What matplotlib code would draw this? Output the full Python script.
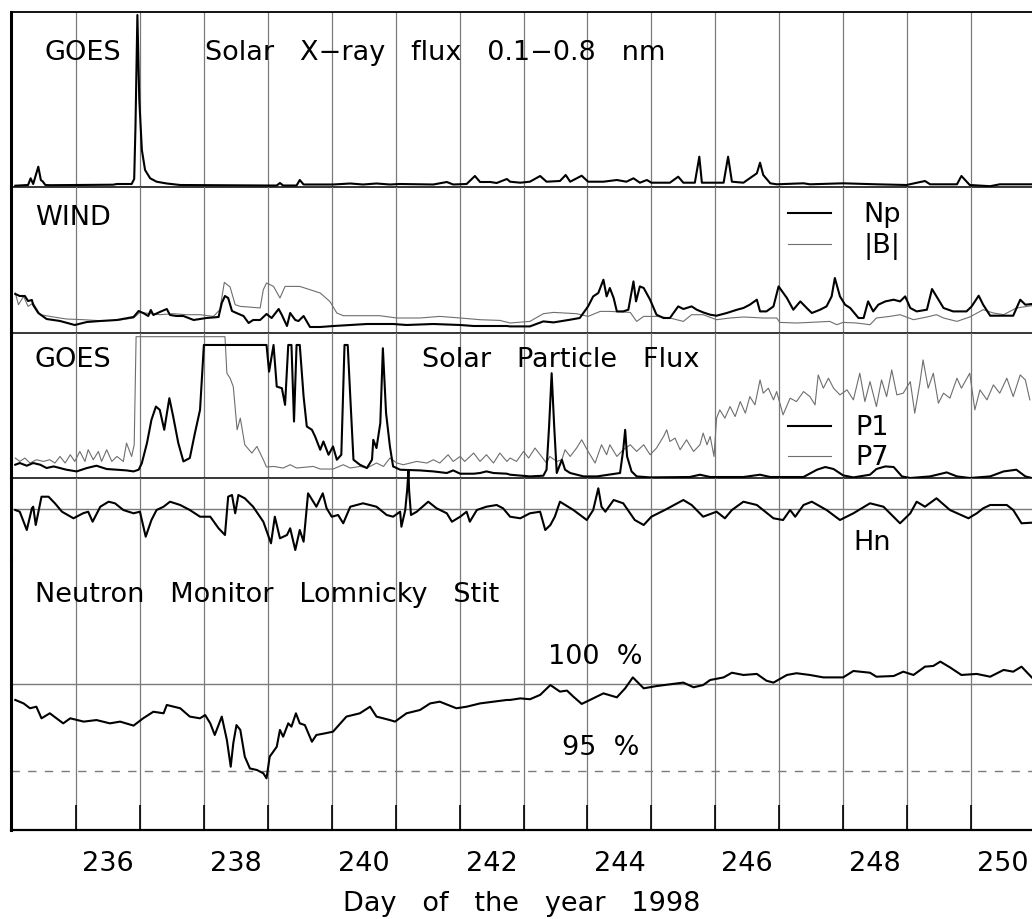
import numpy as np
import matplotlib.pyplot as plt
from matplotlib.lines import Line2D

plt.rcParams['font.family'] = ['DejaVu Sans']

W, H = 1032, 919
FS = 19.5

# ---- GOES solar X-ray flux 0.1-0.8 nm (relative units) ----
xray_day = [234.55, 234.75, 234.79, 234.83, 234.91, 234.95, 234.98, 235.02, 235.09, 236.08,
            236.14, 236.37, 236.41, 236.43, 236.46, 236.49, 236.53, 236.58, 236.66, 236.76,
            236.92, 237.13, 238.48, 238.64, 238.69, 238.74, 238.95, 239.00, 239.06, 239.52,
            239.79, 239.99, 240.20, 240.41, 240.57, 241.09, 241.30, 241.40, 241.61, 241.74,
            241.82, 241.98, 242.08, 242.24,
            242.29, 242.45, 242.60, 242.76, 242.86, 243.07, 243.16, 243.23, 243.41, 243.51,
            243.75, 243.96, 244.11, 244.22, 244.32, 244.43, 244.50, 244.79, 244.92, 245.00,
            245.18, 245.25, 245.29, 245.63, 245.70, 245.76, 245.94, 246.15, 246.20, 246.25,
            246.36, 246.46, 246.88, 246.98, 247.50, 248.02, 248.49, 248.78, 248.86, 249.28,
            249.35, 249.48, 249.80, 249.95, 250.45]
xray_flux = [1.3, 2.0, 8.7, 3.0, 20.3, 7.0, 5.5, 2.0, 1.8, 2.3,
             3.0, 3.0, 8.0, 60.0, 172.0, 87.0, 37.0, 17.0, 8.7, 5.3,
             3.5, 2.0, 1.5, 1.5, 4.0, 1.5, 1.5, 7.0, 2.5, 2.5,
             3.5, 2.5, 3.5, 2.5, 3.0, 2.5, 5.0, 2.5, 3.0, 11.0,
             5.0, 5.0, 4.0, 8.0,
             5.3, 4.3, 5.3, 11.0, 5.3, 6.0, 12.0, 5.3, 11.3, 5.3,
             5.3, 7.0, 5.3, 8.7, 4.3, 7.0, 4.3, 4.3, 10.3, 4.3,
             4.3, 30.3, 4.3, 4.3, 30.3, 5.3, 4.3, 13.7, 24.3, 12.0,
             3.7, 2.7, 3.7, 2.7, 3.7, 2.7, 2.0, 6.0, 2.7, 2.7,
             11.0, 2.0, 0.8, 2.7, 2.7]

# ---- WIND proton density Np and |B| (relative units) ----
np_day = [234.55, 234.62, 234.70, 234.75, 234.81, 234.83, 234.91, 235.04, 235.25, 235.48,
          235.67, 235.88, 236.14, 236.40, 236.48, 236.55, 236.63, 236.67, 236.71, 236.81,
          236.92, 236.97, 237.07, 237.18, 237.34, 237.54, 237.73, 237.78, 237.83, 237.88,
          237.94, 238.01, 238.12, 238.20, 238.27, 238.38, 238.48, 238.56, 238.67, 238.72,
          238.80, 238.85, 238.93, 238.98, 239.06, 239.16, 239.32, 239.53, 239.79, 240.05,
          240.46, 240.67, 241.09, 241.51, 241.72, 242.03, 242.24,
          242.29, 242.60, 242.81, 242.97, 243.23, 243.38, 243.51, 243.59, 243.67, 243.75,
          243.80, 243.85, 243.91, 243.96, 244.06, 244.14, 244.22, 244.26, 244.32, 244.38,
          244.48, 244.58, 244.69, 244.79, 244.92, 245.00, 245.13, 245.21, 245.31, 245.42,
          245.52, 245.68, 245.84, 245.94, 246.04, 246.15, 246.20, 246.30, 246.41, 246.49,
          246.62, 246.72, 246.83, 246.93, 247.01, 247.14, 247.24, 247.32, 247.37, 247.45,
          247.53, 247.61, 247.74, 247.82, 247.89, 247.97, 248.05, 248.16, 248.29, 248.39,
          248.47, 248.55, 248.65, 248.81, 248.89, 248.96, 249.07, 249.22, 249.43, 249.51,
          249.62, 249.69, 249.80, 249.90, 250.16, 250.27, 250.35, 250.45]
np_val = [39, 37, 37, 32, 33, 28, 20, 14, 12, 8,
          11, 12, 13, 16, 22, 20, 17, 23, 18, 21,
          24, 18, 17, 17, 13, 15, 16, 30, 37, 35,
          22, 20, 17, 10, 13, 13, 19, 15, 24, 18,
          7, 20, 13, 12, 17, 6, 6, 7, 8, 9,
          9, 8, 9, 8, 7, 7, 7,
          6.6, 6.6, 11.6, 10.6, 13.3, 15, 26.6, 36.6, 40, 53.3,
          36.6, 45, 35, 21.6, 21.6, 23.3, 51.6, 31.6, 46.6, 45,
          33.3, 18.3, 15, 15, 26.6, 24, 26.6, 23.3, 20.6, 18.3,
          17.3, 20, 23.3, 25, 28.3, 33.3, 21.6, 21.6, 26.6, 46.6,
          35, 23.3, 31.6, 25, 20, 23.3, 26.6, 36.6, 55, 36.6,
          28.3, 25, 15, 15, 31.6, 21.6, 28.3, 31.6, 33.3, 31.6,
          36.6, 25, 21.6, 23.3, 44, 36.6, 25, 21.6, 21.6, 26.6,
          37.3, 28.3, 17.3, 17.3, 17.3, 33.3, 28.3, 29]

b_day = [234.55, 234.60, 234.68, 234.75, 234.83, 234.94, 235.15, 235.35, 235.62, 235.88,
         236.14, 236.40, 236.50, 236.81, 237.02, 237.23, 237.44, 237.65, 237.75, 237.82,
         237.91, 237.99, 238.07, 238.20, 238.38, 238.43, 238.48, 238.59, 238.69, 238.77,
         239.00, 239.16, 239.32, 239.47, 239.58, 239.68, 239.94, 240.25, 240.52, 240.88,
         241.19, 241.51, 241.82, 242.13,
         242.29, 242.60, 242.81, 242.97, 243.33, 243.51, 243.70, 243.85, 244.17, 244.27,
         244.38, 244.58, 244.79, 245.00, 245.13, 245.31, 245.52, 245.73, 245.94, 246.25,
         246.46, 246.51, 246.77, 246.98, 247.29, 247.40, 247.50, 247.71, 247.92, 248.02,
         248.23, 248.39, 248.60, 248.81, 248.96, 249.07, 249.28, 249.48, 249.69, 249.85,
         250.01, 250.21, 250.45]
b_val = [40, 28.3, 36.6, 26.6, 30, 18.3, 16, 14, 13.3, 12.3,
         12.6, 15, 20.6, 18.3, 19.3, 18.3, 18.3, 16.6, 23.3, 50.6,
         46, 28.3, 26.6, 26, 25, 43.3, 50, 46.6, 35, 46.6,
         46.6, 43.3, 40, 31.6, 20, 17.3, 17.3, 17.3, 15, 15,
         16.6, 15, 13.3, 12.6,
         10, 11.6, 19.3, 20.6, 19.3, 16.6, 21.6, 21.6, 20.6, 11.6,
         16.6, 16.6, 15, 11.6, 18.3, 18.3, 13.3, 15, 16, 15,
         15, 10.6, 10, 10.6, 11.6, 8.3, 10.6, 10, 8.3, 15,
         16.6, 18.3, 13.3, 16, 18.3, 15, 11.6, 16, 23.3, 20,
         18.3, 25, 27.3]

# ---- GOES solar particle flux P1 and P7 (relative units) ----
p1_day = [234.55, 234.62, 234.73, 234.83, 234.94, 235.04, 235.15, 235.35, 235.51, 235.67,
          235.82, 235.98, 236.14, 236.29, 236.40, 236.48, 236.53, 236.61, 236.68, 236.75,
          236.81, 236.88, 236.96, 237.02, 237.10, 237.18, 237.28, 237.36, 237.44, 237.50,
          238.48, 238.52, 238.59, 238.64, 238.72, 238.77, 238.82, 238.87, 238.91, 238.95,
          239.00, 239.06, 239.11, 239.19, 239.24, 239.32, 239.37, 239.45, 239.52, 239.58,
          239.65, 239.70, 239.75, 239.79, 239.84, 239.94, 240.05, 240.13, 240.15, 240.20,
          240.26, 240.30, 240.35, 240.41, 240.46, 240.57, 240.88, 241.09, 241.30, 241.40,
          241.51, 241.72, 241.82, 241.92, 242.03, 242.24,
          242.29, 242.60, 242.81, 242.86, 242.90, 242.94, 242.98, 243.02, 243.10, 243.15,
          243.23, 243.44, 243.65, 244.01, 244.06, 244.09, 244.12, 244.19, 244.27, 244.48,
          245.10, 245.26, 245.42, 245.94, 246.20, 246.36, 246.88, 247.09, 247.22, 247.35,
          247.50, 247.66, 247.92, 248.02, 248.16, 248.29, 248.42, 248.55, 248.86, 249.12,
          249.28, 249.48, 249.80, 250.01, 250.21, 250.35, 250.45]
p1_val = [13.3, 15, 12.3, 15, 13.3, 10, 11.6, 8.3, 6.6, 10,
          12.3, 9, 8.3, 7.6, 6.6, 8.3, 15, 35, 58.3, 71.6,
          68.3, 48.3, 80, 61.6, 35, 16.6, 20, 45, 68.3, 133.3,
          133.3, 106.6, 133.3, 91.6, 90, 73.3, 133.3, 133.3, 56.6, 133.3,
          133.3, 81.6, 51.6, 48.3, 41.6, 28.3, 36.6, 23.3, 31.6, 18.3,
          23.3, 133.3, 133.3, 81.6, 18.3, 13.3, 10, 18.3, 38.3, 30,
          55, 130, 65, 31.6, 11.6, 8.3, 7.6, 6.6, 5, 7.6,
          4.3, 4.3, 5, 6.6, 5, 4.3,
          3.3, 1.6, 2.3, 8.3, 51.6, 105, 51.6, 5, 18.3, 8.3,
          5, 1.6, 1.6, 5, 28.3, 48.3, 21.6, 6.6, 1.6, 0.6,
          1, 3.3, 1, 1, 3.3, 1, 1, 8.3, 11, 9,
          2.6, 0.6, 3.3, 9, 11.6, 11, 1.6, 0, 1.6, 5.6,
          1.6, 0, 1.6, 6.6, 8.3, 1.6, 0]

p7_day = [234.55, 234.62, 234.70, 234.78, 234.88, 234.99, 235.09, 235.17, 235.25, 235.33,
          235.41, 235.48, 235.56, 235.64, 235.69, 235.77, 235.85, 235.90, 235.98, 236.06,
          236.14, 236.24, 236.29, 236.37, 236.41, 236.44, 237.83, 237.86, 237.91, 237.96,
          238.02, 238.07, 238.14, 238.25, 238.33, 238.38, 238.43, 238.48, 238.59, 238.74,
          238.85, 238.95, 239.21, 239.32, 239.52, 239.68, 239.79, 239.94, 240.05, 240.20,
          240.31, 240.41, 240.52, 240.62, 240.83, 240.99, 241.09, 241.19, 241.32, 241.40,
          241.51, 241.58, 241.72, 241.82, 241.92, 242.03, 242.13, 242.24,
          242.29, 242.39, 242.50, 242.58, 242.68, 242.78, 242.86, 242.91, 243.02, 243.10,
          243.15, 243.23, 243.33, 243.41, 243.51, 243.62, 243.72, 243.80, 243.85, 243.96,
          244.06, 244.17, 244.27, 244.38, 244.48, 244.58, 244.69, 244.74, 244.79, 244.87,
          244.95, 245.05, 245.16, 245.26, 245.31, 245.37, 245.42, 245.48, 245.52, 245.57,
          245.65, 245.73, 245.81, 245.89, 245.97, 246.04, 246.12, 246.20, 246.25, 246.33,
          246.41, 246.46, 246.56, 246.67, 246.77, 246.88, 246.98, 247.06, 247.11, 247.19,
          247.27, 247.35, 247.45, 247.56, 247.66, 247.76, 247.84, 247.92, 248.02, 248.10,
          248.18, 248.26, 248.34, 248.44, 248.55, 248.62, 248.70, 248.75, 248.83, 248.91,
          248.99, 249.07, 249.17, 249.28, 249.35, 249.48, 249.56, 249.64, 249.75, 249.85,
          249.95, 250.06, 250.16, 250.27, 250.35, 250.42]
p7_val = [20, 16.6, 20, 15, 18.3, 16.6, 18.3, 15, 21.6, 15,
          23.3, 16.6, 26.6, 16.6, 28.3, 18.3, 26.6, 16.6, 28.3, 16.6,
          21.6, 16.6, 35, 21.6, 33.3, 141.6, 141.6, 105, 100, 91.6,
          48.3, 60, 33.3, 25, 31.6, 25, 18.3, 11, 11.6, 10,
          13.3, 10, 11.6, 9, 9, 13.3, 10, 11.6, 10, 15,
          11.6, 20, 15, 13.3, 16.6, 15, 18.3, 15, 23.3, 16.6,
          21.6, 16.6, 25, 16.6, 23.3, 15, 25, 16.6,
          20, 16.6, 26.6, 20, 30, 21.6, 15, 21.6, 16.6, 18.3,
          28.3, 21.6, 30, 38.3, 26.6, 15, 33.3, 23.3, 33.3, 21.6,
          28.3, 33.3, 26.6, 33.3, 23.3, 30, 41.6, 48.3, 36.6, 40,
          28.3, 38.3, 26.6, 33.3, 45, 33.3, 41.6, 21.6, 60, 68.3,
          60, 71.6, 61.6, 76.6, 65, 81.6, 73.3, 98.3, 85, 90,
          78.3, 86.6, 63.3, 80, 76.6, 86.6, 81.6, 73.3, 103.3, 90,
          100, 90, 83.3, 88.3, 78.3, 105, 76.6, 96.6, 71.6, 98.3,
          81.6, 108.3, 83.3, 85, 96.6, 65, 95, 118.3, 90, 105,
          75, 85, 80, 100, 90, 105, 68.3, 88.3, 78.3, 93.3,
          85, 100, 81.6, 103.3, 98.3, 78.3]

# ---- Hn component (relative units, zero at the reference line) ----
hn_day = [234.55, 234.62, 234.73, 234.81, 234.83, 234.87, 234.96, 235.07, 235.17, 235.28,
          235.46, 235.61, 235.69, 235.76, 235.88, 236.01, 236.11, 236.24, 236.40, 236.50,
          236.59, 236.68, 236.76, 236.87, 236.97, 237.13, 237.28, 237.44, 237.60, 237.73,
          237.83, 237.88, 237.94, 237.99, 238.04, 238.14, 238.27, 238.43, 238.55, 238.61,
          238.69, 238.80, 238.85, 238.93, 239.00, 239.06, 239.13, 239.26, 239.36, 239.42,
          239.50, 239.60, 239.68, 239.79, 239.99, 240.20, 240.36, 240.46, 240.57, 240.59,
          240.65, 240.68, 240.70, 240.71, 240.74, 240.83, 241.01, 241.14, 241.30, 241.38,
          241.51, 241.61, 241.66, 241.77, 241.92, 242.08, 242.18, 242.29,
          242.45, 242.60, 242.76, 242.84, 242.92, 242.99, 243.07, 243.28, 243.49, 243.59,
          243.67, 243.72, 243.78, 243.91, 244.06, 244.24, 244.38, 244.50, 244.71, 245.00,
          245.13, 245.31, 245.52, 245.65, 245.76, 245.94, 246.15, 246.41, 246.56, 246.67,
          246.75, 246.88, 247.01, 247.24, 247.45, 247.66, 247.92, 248.13, 248.39, 248.55,
          248.65, 248.78, 248.96, 249.17, 249.46, 249.59, 249.69, 249.80, 250.06, 250.16,
          250.29, 250.45]
hn_val = [-1, -2.7, -21, 0.7, 2.3, -16, 12.3, 12.3, 5.7, -2.7,
          -9.3, -4.3, -2.7, -12.7, 2.3, 7.3, 5.7, -1, -4.3, -2.7,
          -27.7, -11, -1, 2.3, 7.3, 4, -1, -7.7, -7.7, -19.3,
          -26, 12.3, 14, -4.3, 14, 10.7, 2.3, -12.7, -34.3, -7.7,
          -29.3, -26, -19.3, -41, -21, -32.7, 15.7, 2.3, 15.7, 0.7,
          -7.7, -6, -14.3, 2.3, 5.7, 2.3, -6, -7.7, -2.7, -17.7,
          -1, 19, 38, 19, -6, -2.7, 7.3, 0.7, -4.3, -12.7,
          -7.7, -2.7, -12.7, -1, 2.3, 4, 0.7, -7.7,
          -9.3, -4.3, -2.7, -21, -16, -7.7, 7.3, -1, -11, -1,
          20.7, 2.3, -2.7, 9, 5.7, -11, -16, -7.7, -1, 9,
          4, -7.7, -2.7, -9.3, -1, 7.3, 4, -9.3, -11, -1,
          -7.7, 4, 7.3, -1, -11, -4.3, 5.7, 2.3, -14.3, -4.3,
          7.3, 2.3, 10.7, -1, -9.3, -4.3, 0.7, 4, 4, -1,
          -14.3, -13.7]

# ---- Neutron monitor Lomnicky Stit (%) ----
nm_day = [234.55, 234.68, 234.78, 234.88, 234.96, 235.09, 235.30, 235.41, 235.62, 235.82,
          236.03, 236.19, 236.40, 236.55, 236.71, 236.87, 236.92, 237.13, 237.28, 237.44,
          237.52, 237.60, 237.67, 237.78, 237.86, 237.92, 237.96, 238.01, 238.07, 238.14,
          238.22, 238.33, 238.43, 238.48, 238.53, 238.64, 238.69, 238.74, 238.82, 238.87,
          238.94, 239.00, 239.08, 239.19, 239.26, 239.39, 239.52, 239.73, 239.94, 240.10,
          240.20, 240.41, 240.49, 240.67, 240.88, 241.04, 241.19, 241.45, 241.61, 241.82,
          242.03, 242.24,
          242.29, 242.45, 242.60, 242.76, 242.92, 243.07, 243.18, 243.28, 243.41, 243.54,
          243.75, 243.96, 244.09, 244.21, 244.38, 244.58, 244.79, 245.00, 245.16, 245.31,
          245.42, 245.63, 245.76, 245.94, 246.15, 246.30, 246.41, 246.62, 246.77, 246.98,
          247.19, 247.50, 247.66, 247.92, 248.02, 248.29, 248.44, 248.60, 248.78, 248.91,
          249.02, 249.17, 249.35, 249.59, 249.80, 250.01, 250.16, 250.29, 250.45]
nm_val = [99.08, 98.88, 98.60, 98.69, 98.02, 98.31, 97.73, 98.02, 97.83, 97.92,
          97.73, 97.83, 97.60, 98.02, 98.40, 98.31, 98.79, 98.60, 98.12, 98.02,
          98.21, 97.73, 97.06, 98.12, 96.77, 95.23, 96.58, 97.63, 97.35, 95.81,
          95.13, 95.04, 94.85, 94.56, 95.81, 96.38, 97.35, 96.96, 97.73, 97.54,
          98.31, 97.73, 97.63, 96.67, 97.06, 97.15, 97.25, 98.12, 98.31, 98.69,
          98.12, 97.92, 97.83, 98.31, 98.50, 98.88, 98.98, 98.60, 98.69, 98.88,
          98.98, 99.08,
          99.08, 99.17, 99.12, 99.37, 99.94, 99.56, 99.62, 99.27, 98.85, 99.08,
          99.46, 99.23, 99.75, 100.38, 99.75, 99.88, 99.98, 100.08, 99.81, 99.94,
          100.23, 100.38, 100.65, 100.52, 100.58, 100.19, 100.08, 100.52, 100.62, 100.52,
          100.38, 100.38, 100.75, 100.65, 100.42, 100.46, 100.71, 100.52, 101.00, 101.04,
          101.29, 100.96, 100.52, 100.58, 100.42, 100.81, 100.71, 101.00, 100.38]

grid_days = np.arange(235.5, 250.0, 1.0)
label_days = [236, 238, 240, 242, 244, 246, 248, 250]
XMIN, XMAX = 234.483, 250.454

THICK = dict(color='black', lw=1.5)
THIN = dict(color='#6e6e6e', lw=0.8)
GRID = dict(color='#7a7a7a', lw=0.9, zorder=0)


def fx(px):
    return px / W


def fy(py):
    return 1 - py / H


def panel(top, bottom, ylim):
    ax = fig.add_axes([fx(11), fy(bottom), 1 - fx(11), (bottom - top) / H])
    ax.set_xlim(XMIN, XMAX)
    ax.set_ylim(*ylim)
    ax.set_facecolor('none')
    for s in ax.spines.values():
        s.set_visible(False)
    ax.spines['left'].set_visible(True)
    ax.spines['left'].set_linewidth(2.2)
    ax.spines['bottom'].set_linewidth(1.1)
    ax.set_xticks([])
    ax.set_yticks([])
    for g in grid_days:
        ax.axvline(g, **GRID)
    return ax


fig = plt.figure(figsize=(W / 100, H / 100), dpi=100)

# X-ray
ax1 = panel(12, 187, (0, 175))
ax1.spines['top'].set_visible(True)
ax1.spines['top'].set_linewidth(1.3)
ax1.spines['bottom'].set_visible(True)
ax1.plot(xray_day, xray_flux, **THICK)

# WIND
ax2 = panel(187, 333, (0, 146))
ax2.spines['bottom'].set_visible(True)
ax2.plot(b_day, b_val, **THIN, label='|B|')
ax2.plot(np_day, np_val, **THICK, label='Np')
h2 = [Line2D([], [], **THICK), Line2D([], [], **THIN)]
ax2.legend(h2, ['Np', '|B|'], loc='upper left', bbox_to_anchor=(fx(788), fy(202)),
           bbox_transform=fig.transFigure, frameon=False, fontsize=FS, handlelength=1.6,
           handletextpad=1.2, labelspacing=0.2, borderpad=0, borderaxespad=0)

# particles
ax3 = panel(333, 478, (0, 145.3))
ax3.spines['bottom'].set_visible(True)
ax3.plot(p7_day, p7_val, **THIN)
ax3.plot(p1_day, p1_val, **THICK)
h3 = [Line2D([], [], **THICK), Line2D([], [], **THIN)]
ax3.legend(h3, ['P1', 'P7'], loc='upper left', bbox_to_anchor=(fx(788), fy(415)),
           bbox_transform=fig.transFigure, frameon=False, fontsize=FS, handlelength=1.6,
           handletextpad=0.9, labelspacing=0.15, borderpad=0, borderaxespad=0)

# Hn
ax4 = panel(478, 560, (-51, 31))
ax4.axhline(0, color='#7a7a7a', lw=1.0, zorder=0)
ax4.plot(hn_day, hn_val, **THICK, clip_on=False)

# neutron monitor
ax5 = panel(560, 830, (91.58, 107.15))
ax5.spines['bottom'].set_visible(True)
ax5.spines['bottom'].set_linewidth(1.6)
ax5.axhline(100, color='#7a7a7a', lw=1.0, zorder=0)
ax5.axhline(95, color='#7a7a7a', lw=1.0, dashes=(6, 6), zorder=0)
ax5.plot(nm_day, nm_val, **THICK)
ax5.set_xticks(grid_days)
ax5.tick_params(axis='x', which='major', direction='in', length=18, width=1.2,
                labelbottom=False)
ax5.set_xticks(label_days, [str(d) for d in label_days], minor=True)
ax5.tick_params(axis='x', which='minor', length=0, pad=15, labelsize=FS)
ax5.set_xlabel('Day   of   the   year   1998', fontsize=FS, labelpad=10)

# annotations
txt = dict(fontsize=FS, va='center', ha='left')
fig.text(fx(45), fy(53), 'GOES', **txt)
fig.text(fx(205), fy(53), 'Solar   X\u2212ray   flux   0.1\u22120.8   nm', **txt)
fig.text(fx(35), fy(218), 'WIND', **txt)
fig.text(fx(35), fy(360), 'GOES', **txt)
fig.text(fx(422), fy(360), 'Solar   Particle   Flux', **txt)
fig.text(fx(853), fy(543), 'Hn', **txt)
fig.text(fx(35), fy(595), 'Neutron   Monitor   Lomnicky   Stit', **txt)
fig.text(fx(548), fy(657), '100  %', **txt)
fig.text(fx(562), fy(748), '95  %', **txt)

fig.savefig('out.png', dpi=100, facecolor='white')
